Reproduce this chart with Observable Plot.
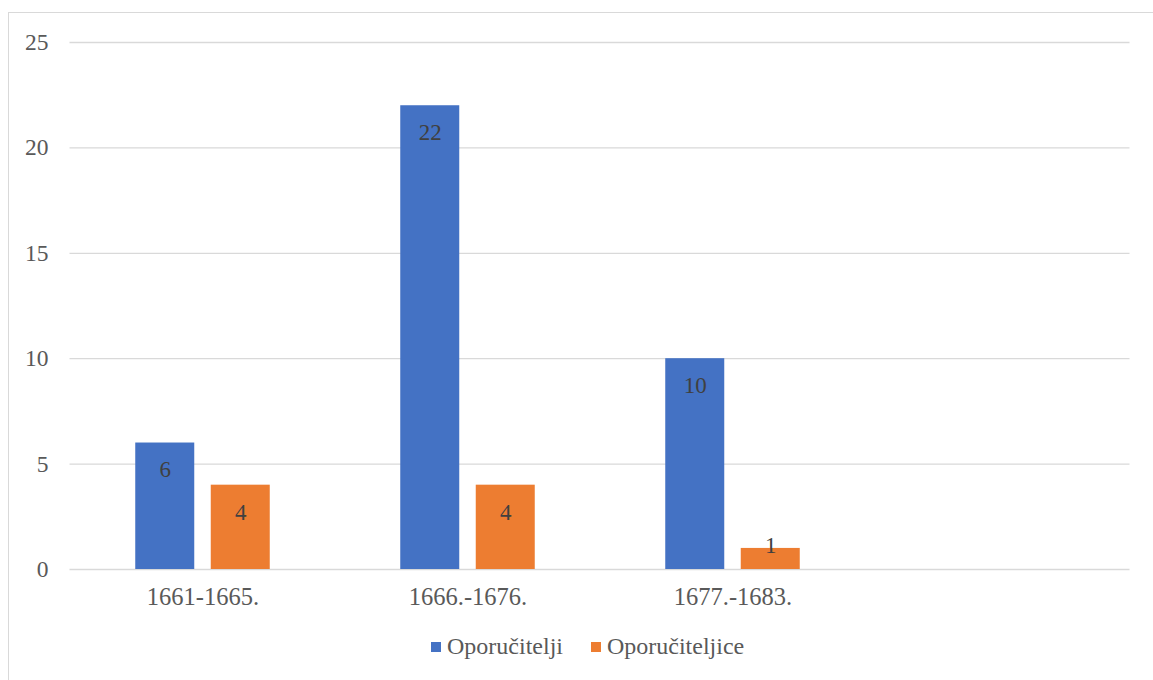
<!DOCTYPE html>
<html>
<head>
<meta charset="utf-8">
<script src="https://cdn.jsdelivr.net/npm/d3@7"></script>
<script src="https://cdn.jsdelivr.net/npm/@observablehq/plot@0.6"></script>
<style>
  html, body { margin: 0; padding: 0; background: #fff; overflow: hidden; }
  body { width: 1153px; height: 680px; position: relative; font-family: "Liberation Serif", "Times New Roman", serif; }
  #frame { position: absolute; left: 8px; top: 12px; width: 1300px; height: 800px; border: 1px solid #d9d9d9; box-sizing: border-box; }
  #chart { position: absolute; left: 0; top: 0; }
  #legend { position: absolute; left: 431px; top: 633px; display: flex; align-items: center; font-size: 24px; color: #595959; }
  .sw { width: 10px; height: 10px; display: inline-block; margin-right: 6px; }
  .item { display: flex; align-items: center; margin-right: 28px; }
</style>
</head>
<body>
<div id="frame"></div>
<div id="chart"></div>
<div id="legend"></div>
<script>
const periods = ["1661-1665.", "1666.-1676.", "1677.-1683.", " "];
const seriesNames = ["Oporučitelji", "Oporučiteljice"];
const colors = ["#4472C4", "#ED7D31"];
const oporucitelji = [6, 22, 10];
const oporuciteljice = [4, 4, 1];
const yTicks = [0, 5, 10, 15, 20, 25];

const rows = (vals, s) => vals.map((v, i) => ({period: periods[i], value: v, series: s}));
const dataA = rows(oporucitelji, seriesNames[0]);
const dataB = rows(oporuciteljice, seriesNames[1]);

const inset = 103;
const off = 37.75;
const labelY = d => Math.max(d.value, 2.4);

const plot = Plot.plot({
  width: 1153,
  height: 620,
  marginLeft: 69.5,
  marginRight: 23.5,
  marginTop: 42,
  marginBottom: 51,
  style: {fontFamily: "'Liberation Serif', 'Times New Roman', serif", background: "transparent"},
  x: {domain: periods, padding: 0, label: null},
  y: {domain: [0, 25], label: null},
  marks: [
    Plot.ruleY(yTicks, {stroke: "#d9d9d9", strokeWidth: 1.3}),
    Plot.barY(dataA, {x: "period", y: "value", fill: colors[0], dx: -off, insetLeft: inset, insetRight: inset}),
    Plot.barY(dataB, {x: "period", y: "value", fill: colors[1], dx: off, insetLeft: inset, insetRight: inset}),
    Plot.text(dataA, {x: "period", y: labelY, text: d => String(d.value), dx: -off, dy: 27, fill: "#404040", fontSize: 23}),
    Plot.text(dataB, {x: "period", y: labelY, text: d => String(d.value), dx: off, dy: 27, fill: "#404040", fontSize: 23}),
    Plot.axisY({ticks: yTicks, tickSize: 0, tickPadding: 21.5, fontSize: 23.5, color: "#595959", label: null}),
    Plot.axisX({tickSize: 0, tickPadding: 18.5, fontSize: 24.5, color: "#595959", label: null})
  ]
});
document.getElementById("chart").appendChild(plot);

const legend = document.getElementById("legend");
seriesNames.forEach((name, i) => {
  const item = document.createElement("span");
  item.className = "item";
  const sw = document.createElement("span");
  sw.className = "sw";
  sw.style.background = colors[i];
  item.appendChild(sw);
  item.appendChild(document.createTextNode(name));
  legend.appendChild(item);
});
</script>
</body>
</html>
